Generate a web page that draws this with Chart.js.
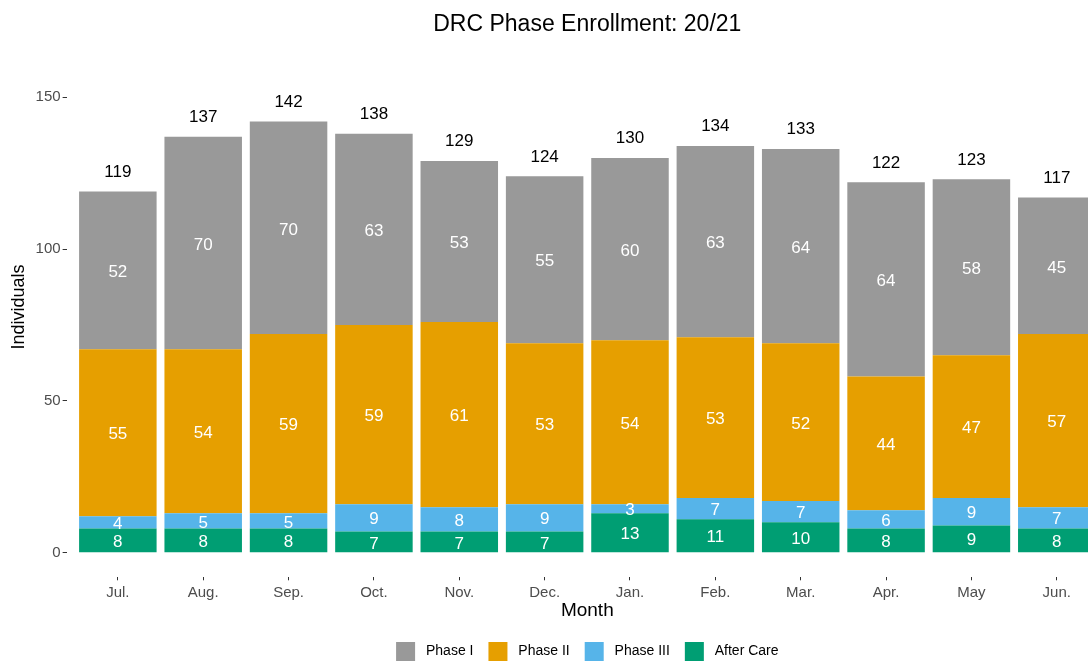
<!DOCTYPE html>
<html>
<head>
<meta charset="utf-8">
<script src="https://cdn.jsdelivr.net/npm/chart.js@4"></script>
<style>
  html, body { margin: 0; padding: 0; background: #ffffff; overflow: hidden; }
  #wrap { width: 1088px; height: 664px; overflow: hidden; position: relative; }
  canvas { display: block; }
</style>
</head>
<body>
<div id="wrap"><canvas id="c" width="1110" height="672"></canvas></div>
<script>
const months = ['Jul.', 'Aug.', 'Sep.', 'Oct.', 'Nov.', 'Dec.', 'Jan.', 'Feb.', 'Mar.', 'Apr.', 'May', 'Jun.'];
const phase1 = [52, 70, 70, 63, 53, 55, 60, 63, 64, 64, 58, 45];
const phase2 = [55, 54, 59, 59, 61, 53, 54, 53, 52, 44, 47, 57];
const phase3 = [4, 5, 5, 9, 8, 9, 3, 7, 7, 6, 9, 7];
const afterCare = [8, 8, 8, 7, 7, 7, 13, 11, 10, 8, 9, 8];
const totals = [119, 137, 142, 138, 129, 124, 130, 134, 133, 122, 123, 117];
const yTicks = [0, 50, 100, 150];

const FONT = '"Liberation Sans", Arial, Helvetica, sans-serif';

function pts(arr) { return arr.map((v, i) => ({ x: i, y: v })); }

const barLabels = {
  id: 'barLabels',
  afterDatasetsDraw(chart) {
    const ctx = chart.ctx;
    ctx.save();
    ctx.textAlign = 'center';
    ctx.textBaseline = 'middle';
    ctx.font = '17px ' + FONT;
    ctx.fillStyle = '#ffffff';
    chart.data.datasets.forEach((ds, di) => {
      const meta = chart.getDatasetMeta(di);
      meta.data.forEach((bar, i) => {
        const p = bar.getProps(['x', 'y', 'base'], true);
        ctx.fillText(String(ds.data[i].y), p.x, (p.y + p.base) / 2 + 2);
      });
    });
    ctx.fillStyle = '#000000';
    const ys = chart.scales.y, xs = chart.scales.x;
    totals.forEach((t, i) => {
      ctx.fillText(String(t), xs.getPixelForValue(i), ys.getPixelForValue(t + 6.4));
    });
    ctx.restore();
  }
};

new Chart(document.getElementById('c'), {
  type: 'bar',
  data: {
    datasets: [
      { label: 'After Care', data: pts(afterCare), backgroundColor: '#009E73' },
      { label: 'Phase III', data: pts(phase3), backgroundColor: '#56B4E9' },
      { label: 'Phase II', data: pts(phase2), backgroundColor: '#E69F00' },
      { label: 'Phase I', data: pts(phase1), backgroundColor: '#999999' }
    ]
  },
  options: {
    responsive: false,
    animation: false,
    devicePixelRatio: 1,
    barPercentage: 0.908,
    categoryPercentage: 1.0,
    layout: { padding: { left: 0, right: 2, top: 0, bottom: 1 } },
    plugins: {
      title: {
        display: true,
        text: 'DRC Phase Enrollment: 20/21',
        fullSize: false,
        color: '#000000',
        font: { family: FONT, size: 23, weight: 'normal' },
        padding: { top: 10.5, bottom: -1.5 }
      },
      legend: {
        position: 'bottom',
        fullSize: false,
        reverse: true,
        labels: {
          boxWidth: 19,
          boxHeight: 19,
          padding: 15,
          color: '#000000',
          font: { family: FONT, size: 14 },
          generateLabels: (chart) => Chart.defaults.plugins.legend.labels.generateLabels(chart)
            .map(l => Object.assign(l, { text: ' ' + l.text }))
        }
      },
      tooltip: { enabled: false }
    },
    scales: {
      x: {
        type: 'linear',
        min: -0.6,
        max: 11.6,
        stacked: true,
        offset: false,
        afterBuildTicks: (s) => { s.ticks = months.map((m, i) => ({ value: i })); },
        grid: { display: true, offset: false, drawOnChartArea: false, drawTicks: true, tickLength: 3, tickColor: '#333333' },
        border: { display: false },
        ticks: {
          autoSkip: false,
          maxRotation: 0,
          padding: 4,
          color: '#4d4d4d',
          font: { family: FONT, size: 15, lineHeight: 1.1 },
          callback: (v) => months[v]
        },
        title: {
          display: true,
          text: 'Month',
          color: '#000000',
          font: { family: FONT, size: 19 },
          padding: { top: -5, bottom: 4.4 }
        }
      },
      y: {
        min: -8.1,
        max: 170,
        stacked: true,
        afterBuildTicks: (s) => { s.ticks = yTicks.map(v => ({ value: v })); },
        grid: { display: true, drawOnChartArea: false, drawTicks: true, tickLength: 4, tickColor: '#333333' },
        border: { display: false },
        ticks: {
          padding: 2,
          color: '#4d4d4d',
          font: { family: FONT, size: 15 }
        },
        title: {
          display: true,
          text: 'Individuals',
          color: '#000000',
          font: { family: FONT, size: 18 },
          padding: { top: 8, bottom: 4 }
        }
      }
    }
  },
  plugins: [barLabels]
});
</script>
</body>
</html>
